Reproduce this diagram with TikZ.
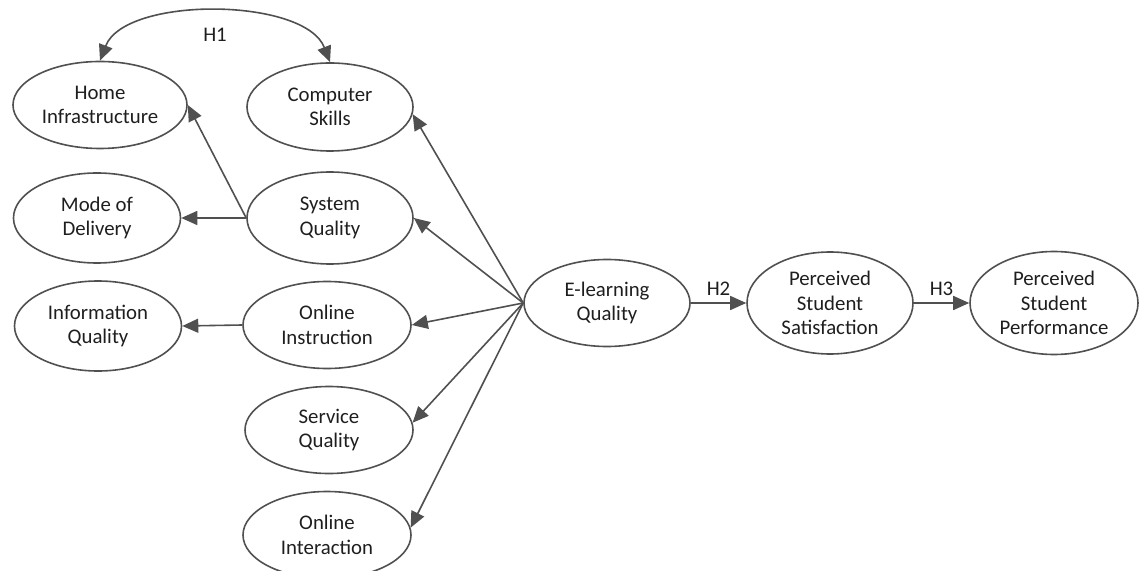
\documentclass[tikz,border=0pt]{standalone}
\usepackage{fontspec}
\setmainfont{Carlito}
\usetikzlibrary{shapes.geometric,arrows.meta}
\definecolor{linegray}{HTML}{505050}
\definecolor{textgray}{HTML}{1E1E1E}
\begin{document}
\begin{tikzpicture}[x=.5pt,y=-.5pt,
    latent/.style={ellipse,draw=linegray,line width=.8pt,inner sep=0pt,align=center,
      text=textgray,font=\fontsize{10.4}{12.2}\selectfont,minimum width=84pt,minimum height=44pt},
    path/.style={draw=linegray,line width=.8pt,-{Triangle[length=8pt,width=7pt]}},
    hyp/.style={text=textgray,font=\fontsize{10.4}{12.2}\selectfont}]
      \useasboundingbox (0,0) rectangle (1143,571);
      \node[latent,minimum width=87pt,minimum height=43.5pt] (hi) at (100,105) {Home\\Infrastructure};
      \node[latent,minimum width=83pt] (cs) at (330,107) {Computer\\Skills};
      \node[latent,minimum width=83.5pt,minimum height=45pt] (md) at (97,218) {Mode of\\Delivery};
      \node[latent,minimum width=83pt,minimum height=46pt] (sq) at (330,218) {System\\Quality};
      \node[latent,minimum width=83.5pt,minimum height=45pt] (iq) at (98,326) {Information\\Quality};
      \node[latent,minimum height=43.5pt] (oi) at (327,325) {Online\\Instruction};
      \node[latent,minimum height=43.5pt] (sv) at (329,430) {Service\\Quality};
      \node[latent,minimum height=43.5pt] (ox) at (327,535) {Online\\Interaction};
      \node[latent,minimum width=83pt,minimum height=43.5pt] (el) at (607,303) {E-learning\\Quality};
      \node[latent,minimum width=83pt,minimum height=51pt] (ps) at (830,303) {Perceived\\Student\\Satisfaction};
      \node[latent,minimum width=84pt,minimum height=51.5pt] (pp) at (1054,303) {Perceived\\Student\\Performance};
      \draw[path,{Triangle[length=8pt,width=7pt]}-{Triangle[length=8pt,width=7pt]}]
        (hi.north) .. controls +(25,-65) and +(-25,-65) .. (cs.north) node[midway,below=4pt,hyp]{H1};
      \draw[path](el.west)--(cs.-5);
      \draw[path](el.west)--(sq.east);
      \draw[path](el.west)--(oi.east);
      \draw[path](el.west)--(sv.5);
      \draw[path](el.west)--(ox.5);
      \draw[path](sq.west)--(hi.east);
      \draw[path](sq.west)--(md.east);
      \draw[path](oi.west)--(iq.east);
      \draw[path](el.east)--(ps.west) node[midway,above,hyp]{H2};
      \draw[path](ps.east)--(pp.west) node[midway,above,hyp]{H3};
    \end{tikzpicture}
\end{document}
